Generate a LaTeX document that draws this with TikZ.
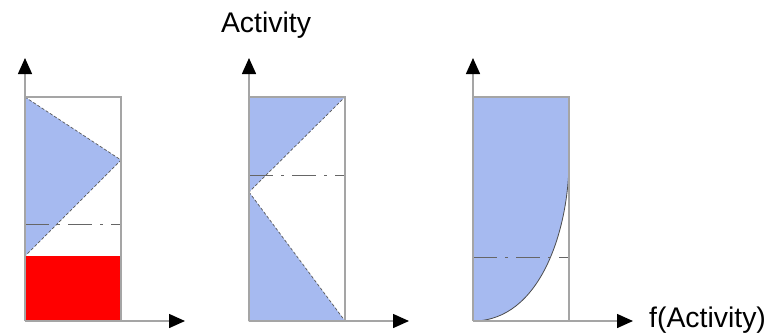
\documentclass[tikz,border=0pt]{standalone}
\usepackage{fontspec}
\setmainfont{Liberation Sans}
\usetikzlibrary{arrows.meta, positioning}
\definecolor{actblue}{RGB}{166,186,240}
\definecolor{axisgray}{RGB}{165,165,165}

\begin{document}
\begin{tikzpicture}[
        x = 1bp, y = -1bp,
        >= {Triangle[length = 16bp, width = 14bp, color = black]},
        axis/.style = {draw = axisgray, line width = 1.5bp, ->},
        frame/.style = {draw = axisgray, line width = 1.3bp},
        slope/.style = {draw = black!65, densely dashed, line width = 0.7bp},
        level/.style = {draw = black!60, line width = 0.9bp,
                        dash pattern = on 24bp off 8bp on 3bp off 8bp},
        label/.style = {font = \fontsize{28.5}{30}\selectfont, inner sep = 0pt}
    ]
      \useasboundingbox (0,0) rectangle (772,332);

      % first panel
      \fill[red] (25,256) rectangle (121,321);
      \filldraw[fill = actblue, slope] (25,97) -- (121,160) -- (25,256) -- cycle;
      \draw[level] (25,224) -- (121,224);

      % second panel
      \filldraw[fill = actblue, slope] (249,97) -- (345,97) -- (249,192) -- cycle;
      \filldraw[fill = actblue, slope] (249,192) -- (345,321) -- (249,321) -- cycle;
      \draw[level] (249,175) -- (345,175);

      % third panel
      \fill[actblue] (473,97) -- (569,97) -- (569,160)
          .. controls (569,230) and (540,321) .. (473,321) -- cycle;
      \draw[black!70, line width = 0.8bp] (569,160)
          .. controls (569,230) and (540,321) .. (473,321);
      \draw[level] (473,257) -- (569,257);

      \foreach \i/\x in {1/25, 2/249, 3/473} {
        \coordinate (o\i) at (\x,321);
        \coordinate (top\i) at (\x,58);
        \coordinate (end\i) at (\x+160,321);
        \draw[frame] (\x,97) -- (\x+96,97) -- (\x+96,321);
        \draw[axis] (o\i) -- (top\i);
        \draw[axis] (o\i) -- (end\i);
      }

      \node[label, anchor = base] (title) at (266,32) {Activity};
      \node[label, anchor = base west] (fname) at (649,327) {f(Activity)};
\end{tikzpicture}
\end{document}
